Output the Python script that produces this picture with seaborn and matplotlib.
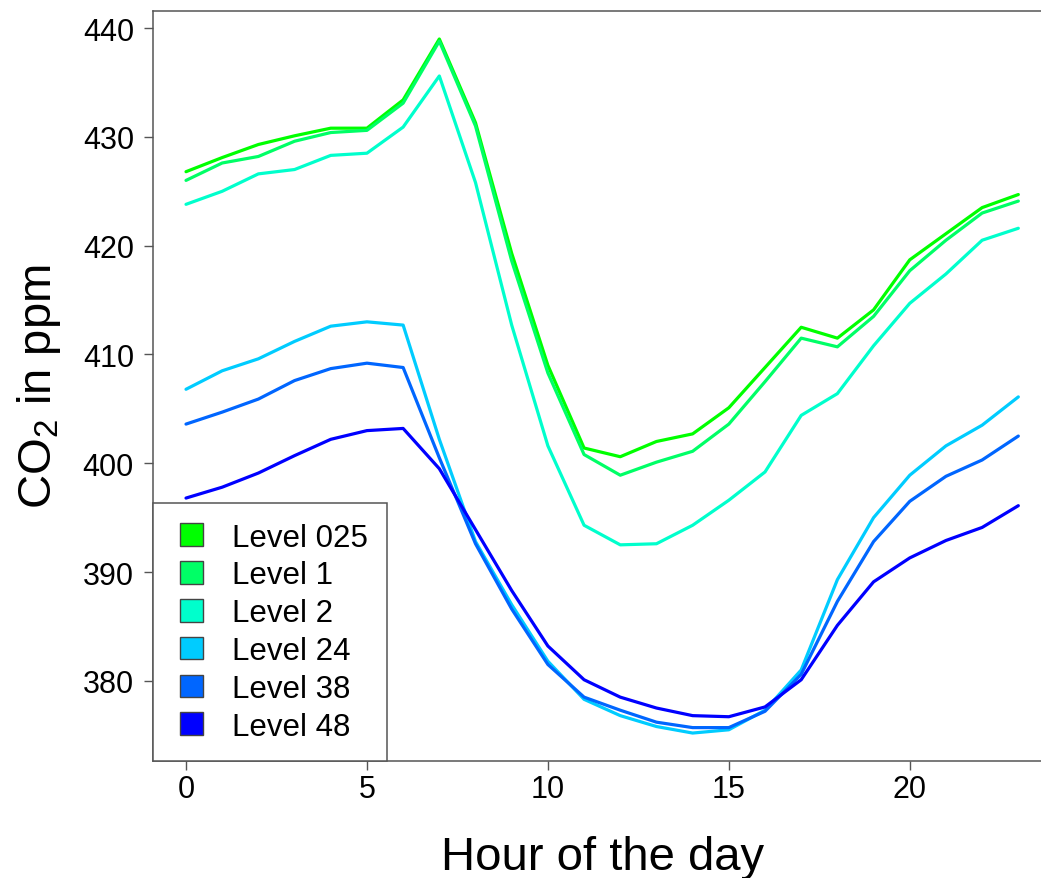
import matplotlib
matplotlib.use("Agg")
import matplotlib.pyplot as plt
import pandas as pd
import seaborn as sns
from matplotlib.patches import Patch, Rectangle
from matplotlib.legend_handler import HandlerPatch

# hourly mean CO2 per measuring level
hours = list(range(24))
level_names = ["Level 025", "Level 1", "Level 2", "Level 24", "Level 38", "Level 48"]
level_colors = ["#00FF00", "#00FF66", "#00FFCC", "#00CCFF", "#0066FF", "#0000FF"]

co2_025 = [426.8, 428.1, 429.3, 430.1, 430.8, 430.8, 433.4, 439.0, 431.3, 419.3, 409.0, 401.4,
           400.6, 402.0, 402.7, 405.1, 408.8, 412.5, 411.5, 414.1, 418.7, 421.1, 423.5, 424.7]
co2_1 = [426.0, 427.6, 428.2, 429.6, 430.4, 430.6, 433.1, 438.8, 431.0, 418.6, 408.3, 400.8,
         398.9, 400.1, 401.1, 403.6, 407.5, 411.5, 410.7, 413.5, 417.7, 420.5, 423.0, 424.1]
co2_2 = [423.8, 425.0, 426.6, 427.0, 428.3, 428.5, 430.9, 435.6, 425.8, 412.7, 401.6, 394.3,
         392.5, 392.6, 394.3, 396.6, 399.2, 404.4, 406.4, 410.8, 414.7, 417.4, 420.5, 421.6]
co2_24 = [406.8, 408.5, 409.6, 411.2, 412.6, 413.0, 412.7, 402.2, 392.8, 387.0, 381.8, 378.3,
          376.8, 375.8, 375.2, 375.5, 377.3, 381.0, 389.3, 395.0, 398.9, 401.6, 403.5, 406.1]
co2_38 = [403.6, 404.7, 405.9, 407.6, 408.7, 409.2, 408.8, 400.5, 392.6, 386.6, 381.5, 378.5,
          377.3, 376.2, 375.7, 375.7, 377.2, 380.6, 387.3, 392.8, 396.5, 398.8, 400.3, 402.5]
co2_48 = [396.8, 397.8, 399.1, 400.7, 402.2, 403.0, 403.2, 399.5, 393.9, 388.3, 383.2, 380.1,
          378.5, 377.5, 376.8, 376.7, 377.6, 380.1, 385.1, 389.1, 391.3, 392.9, 394.1, 396.1]

series = [co2_025, co2_1, co2_2, co2_24, co2_38, co2_48]
df = pd.concat(
    [pd.DataFrame({"hour": hours, "co2": vals, "level": name}) for name, vals in zip(level_names, series)],
    ignore_index=True,
)
palette = dict(zip(level_names, level_colors))

sns.set_style("white")
plt.rcParams["font.family"] = ["Liberation Sans", "DejaVu Sans"]
plt.rcParams["mathtext.fontset"] = "custom"
plt.rcParams["mathtext.rm"] = "Liberation Sans"
plt.rcParams["text.color"] = "black"
plt.rcParams["axes.labelcolor"] = "black"

fig = plt.figure(figsize=(10.41, 8.79), dpi=100)
# axes runs slightly past the right edge, like the cropped original
ax = fig.add_axes([0.1467, 0.1331, 0.8635, 0.8536])

sns.lineplot(data=df, x="hour", y="co2", hue="level", palette=palette,
             linewidth=2.3, legend=False, ax=ax, sort=False)

ax.set_xlim(-0.92, 23.92)
ax.set_ylim(372.63, 441.6)
ax.set_xticks([0, 5, 10, 15, 20])
ax.set_yticks([380, 390, 400, 410, 420, 430, 440])

edge = "#555555"
for side in ["left", "bottom", "top", "right"]:
    ax.spines[side].set_color(edge)
    ax.spines[side].set_linewidth(1.1)
ax.tick_params(axis="both", which="major", direction="out", length=6.5, width=1.0,
               color=edge, labelsize=22, labelcolor="black", left=True, bottom=True)
ax.tick_params(axis="y", pad=7)
ax.tick_params(axis="x", pad=3)

ax.set_xlabel("Hour of the day", fontsize=34, labelpad=22, color="black")
ax.set_ylabel(r"CO$_\mathregular{2}$ in ppm", fontsize=34, labelpad=14, color="black")


def square_handle(legend, orig_handle, xdescent, ydescent, width, height, fontsize):
    s = 0.72 * fontsize
    return Rectangle((-xdescent + width - s, -ydescent + (height - s) / 2), s, s)


handles = [Patch(facecolor=c, edgecolor="#444444", linewidth=1.0) for c in level_colors]
leg = ax.legend(handles, level_names, loc="lower left", bbox_to_anchor=(0, 0),
                borderaxespad=0, fontsize=22.5, frameon=True, fancybox=False,
                framealpha=1, borderpad=0.62, handlelength=0.98, handleheight=0.72,
                handletextpad=0.94, labelspacing=0.25,
                handler_map={Patch: HandlerPatch(patch_func=square_handle)})
leg.get_frame().set_edgecolor(edge)
leg.get_frame().set_linewidth(1.1)
for t in leg.get_texts():
    t.set_color("black")

fig.savefig("out.png", dpi=100)
